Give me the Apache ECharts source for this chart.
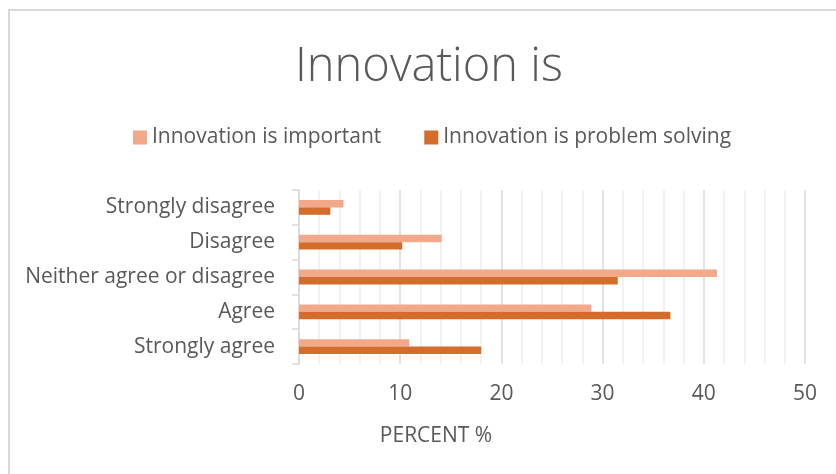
<!DOCTYPE html>
<html>
<head>
<meta charset="utf-8">
<script src="https://cdn.jsdelivr.net/npm/echarts@6/dist/echarts.min.js"></script>
<style>
html,body{margin:0;padding:0;background:#fff;}
#chart{width:836px;height:474px;}
</style>
</head>
<body>
<div id="chart"></div>
<script>
// Data (top to bottom as shown)
const categories = ['Strongly disagree', 'Disagree', 'Neither agree or disagree', 'Agree', 'Strongly agree'];
const seriesNames = ['Innovation is important', 'Innovation is problem solving'];
const importantValues = [4.4, 14.1, 41.3, 28.9, 10.9];
const problemSolvingValues = [3.1, 10.2, 31.5, 36.7, 18.0];
const xTicks = { min: 0, max: 50, interval: 10 };
const titleText = 'Innovation is';
const axisTitle = 'PERCENT %';

const FONT = '"Open Sans", "DejaVu Sans", sans-serif';
const TEXT = '#595959';

const chart = echarts.init(document.getElementById('chart'), null, { renderer: 'canvas' });
chart.setOption({
  backgroundColor: '#ffffff',
  animation: false,
  title: {
    text: titleText,
    left: 295,
    top: 44,
    padding: 0,
    textStyle: { fontFamily: FONT, fontSize: 47, fontWeight: 300, color: TEXT }
  },
  legend: {
    data: seriesNames,
    left: 133,
    top: 127,
    padding: 0,
    itemWidth: 14,
    itemHeight: 14,
    itemGap: 43,
    icon: 'rect',
    textStyle: { fontFamily: FONT, fontSize: 21, color: TEXT }
  },
  grid: { left: 299, right: 31, top: 190, bottom: 110, containLabel: false },
  xAxis: {
    type: 'value',
    min: xTicks.min,
    max: xTicks.max,
    interval: xTicks.interval,
    axisLine: { show: false },
    axisTick: { show: false },
    axisLabel: { fontFamily: FONT, fontSize: 21, color: TEXT, margin: 20 },
    splitLine: { show: true, lineStyle: { color: '#d9d9d9', width: 1.5 } },
    minorTick: { show: false, splitNumber: 5 },
    minorSplitLine: { show: true, lineStyle: { color: '#eeeeee', width: 1.5 } }
  },
  yAxis: {
    type: 'category',
    inverse: true,
    data: categories,
    axisLine: { show: true, lineStyle: { color: '#d9d9d9', width: 1.5 } },
    axisTick: { show: true, length: 7, lineStyle: { color: '#d9d9d9', width: 1.5 } },
    axisLabel: { fontFamily: FONT, fontSize: 21, color: TEXT, margin: 24 },
    splitLine: { show: false }
  },
  series: [
    {
      name: seriesNames[0],
      type: 'bar',
      data: importantValues,
      barWidth: 7.4,
      barGap: '0%',
      itemStyle: { color: '#F2A88A' }
    },
    {
      name: seriesNames[1],
      type: 'bar',
      data: problemSolvingValues,
      barWidth: 7.4,
      barGap: '0%',
      itemStyle: { color: '#D46D2B' }
    }
  ],
  graphic: [
    {
      type: 'rect',
      silent: true,
      shape: { x: 9, y: 10, width: 900, height: 500 },
      style: { fill: 'none', stroke: '#d9d9d9', lineWidth: 2 }
    },
    {
      type: 'text',
      x: 436,
      y: 436,
      style: {
        text: axisTitle,
        fontFamily: FONT,
        fontSize: 21,
        fill: TEXT,
        textAlign: 'center',
        textVerticalAlign: 'middle'
      }
    }
  ]
});
</script>
</body>
</html>
